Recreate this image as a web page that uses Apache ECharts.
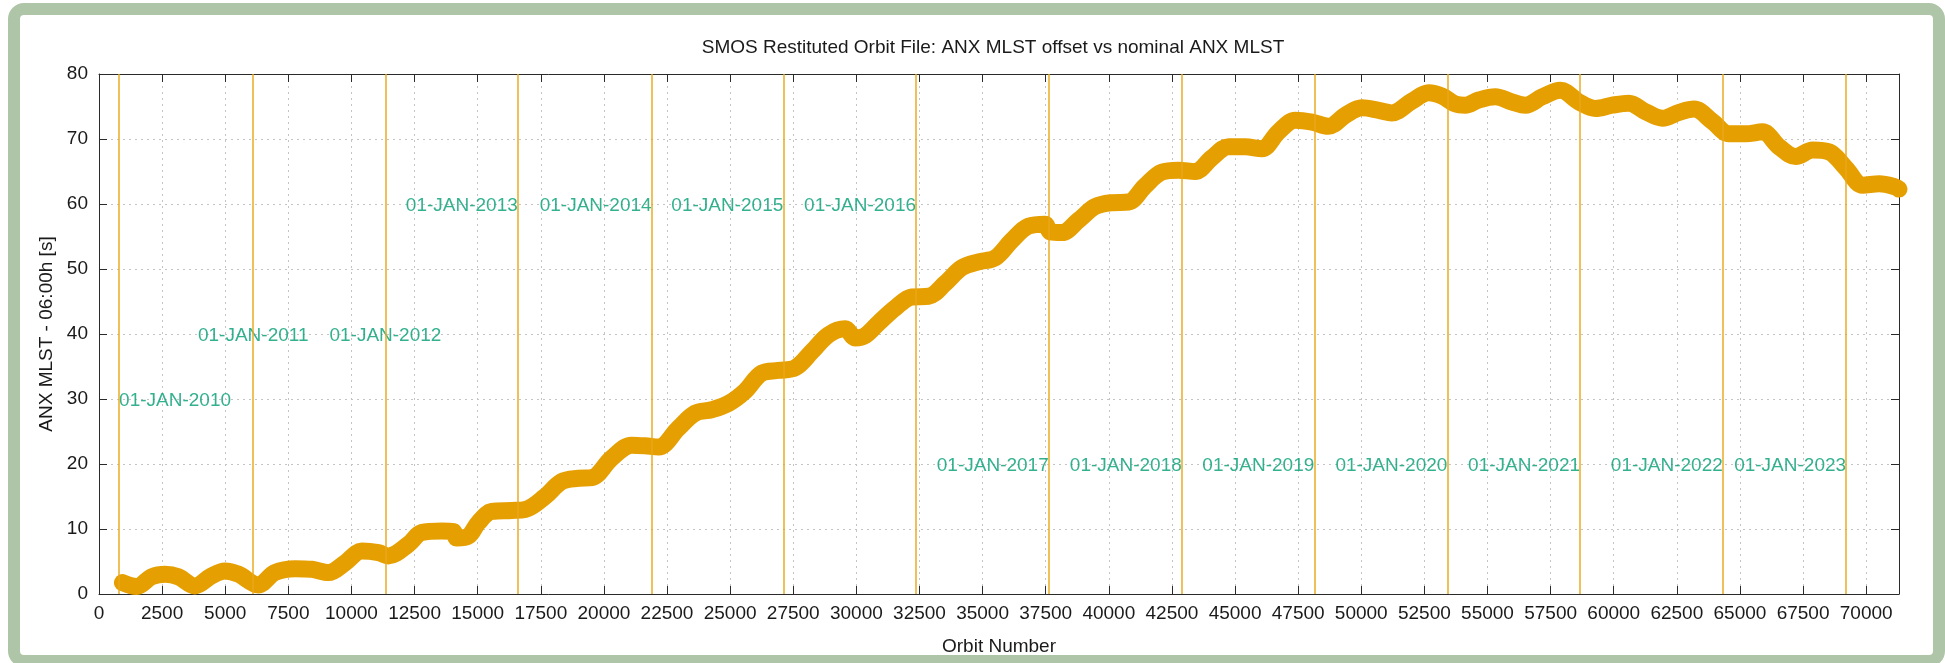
<!DOCTYPE html>
<html>
<head>
<meta charset="utf-8">
<script src="https://cdn.jsdelivr.net/npm/echarts@6/dist/echarts.min.js"></script>
<style>
  html, body { margin: 0; padding: 0; background: #ffffff; overflow: hidden; }
  #frame { position: absolute; left: 8px; top: 3px; width: 1937px; height: 664px; box-sizing: border-box;
           border: 12px solid #afc5a8; border-radius: 16px; background: #ffffff; }
  #chart { position: absolute; left: 0; top: 0; width: 1945px; height: 663px; }
</style>
</head>
<body>
<div id="frame"></div>
<div id="chart"></div>
<script>
// ---- data ----
const orbitNumbers = [930, 1490, 2090, 2620, 3140, 3800, 4460, 4990, 5520, 6310, 6970, 7770, 8430, 9090, 9750, 10410, 11070, 11460, 12260, 12780, 13580, 14040, 14170, 14630, 15030, 15560, 16350, 16880, 17670, 18330, 18990, 19520, 20310, 21100, 21630, 22160, 22950, 23610, 24270, 24930, 25590, 26260, 26920, 27580, 28240, 28900, 29560, 29950, 30350, 30880, 31540, 32200, 32860, 33520, 34180, 34840, 35500, 36160, 36820, 37480, 37680, 38140, 38800, 39460, 40120, 40780, 41440, 42100, 42760, 43420, 44080, 44740, 45400, 46060, 46720, 47390, 48050, 48700, 49370, 50030, 50690, 51210, 52000, 52670, 53200, 53720, 54120, 54650, 55310, 55970, 56500, 57170, 57890, 58620, 59280, 59940, 60600, 61260, 61930, 62590, 63180, 63910, 64570, 65230, 65890, 66550, 67210, 67880, 68540, 69200, 69860, 70520, 71180, 71300];
const mlstOffsets = [1.75, 1.15, 2.65, 3.05, 2.65, 1.25, 2.8, 3.55, 3.05, 1.4, 3.3, 3.9, 3.8, 3.3, 4.8, 6.6, 6.35, 5.85, 7.65, 9.45, 9.7, 9.6, 8.6, 8.9, 11.0, 12.7, 12.85, 13.0, 15.0, 17.3, 17.8, 17.9, 20.9, 22.9, 22.8, 22.6, 25.5, 27.8, 28.35, 29.3, 31.2, 34.0, 34.4, 34.8, 37.3, 39.9, 40.8, 39.4, 39.75, 41.7, 44.0, 45.7, 45.8, 47.8, 50.2, 51.1, 51.7, 54.4, 56.6, 56.9, 55.7, 55.6, 57.5, 59.6, 60.2, 60.3, 62.8, 64.9, 65.2, 65.0, 67.1, 68.8, 68.8, 68.5, 71.1, 72.9, 72.6, 71.95, 73.65, 74.8, 74.4, 74.0, 75.8, 77.1, 76.6, 75.4, 75.2, 76.0, 76.5, 75.7, 75.2, 76.5, 77.5, 75.7, 74.7, 75.2, 75.5, 74.2, 73.2, 74.1, 74.6, 72.7, 70.8, 70.8, 71.1, 68.8, 67.3, 68.3, 68.0, 65.5, 62.9, 63.1, 62.6, 62.3];

const yearLabels = ['01-JAN-2010', '01-JAN-2011', '01-JAN-2012', '01-JAN-2013', '01-JAN-2014', '01-JAN-2015', '01-JAN-2016', '01-JAN-2017', '01-JAN-2018', '01-JAN-2019', '01-JAN-2020', '01-JAN-2021', '01-JAN-2022', '01-JAN-2023'];
const yearOrbits = [795, 6110, 11345, 16590, 21890, 27105, 32365, 37620, 42890, 48140, 53410, 58665, 64320, 69205];
const yearLabelValues = [30, 40, 40, 60, 60, 60, 60, 20, 20, 20, 20, 20, 20, 20];
const yearLabelAligns = ['left', 'center', 'center', 'right', 'right', 'right', 'right', 'right', 'right', 'right', 'right', 'right', 'right', 'right'];

const xMin = 0, xMax = 71300, xStep = 2500;
const yMin = 0, yMax = 80, yStep = 10;

const titleText = 'SMOS Restituted Orbit File: ANX MLST offset vs nominal ANX MLST';
const xName = 'Orbit Number';
const yName = 'ANX MLST - 06:00h [s]';

// ---- chart ----
const FONT = "'Liberation Sans', Arial, Helvetica, sans-serif";
const chart = echarts.init(document.getElementById('chart'), null, { renderer: 'canvas' });

const curve = orbitNumbers.map((o, i) => [o, mlstOffsets[i]]);
const labelPoints = yearLabels.map((t, i) => ({
  value: [yearOrbits[i], yearLabelValues[i]],
  name: t,
  label: { align: yearLabelAligns[i] }
}));

const axisCommon = {
  type: 'value',
  axisLine: { show: true, onZero: false, lineStyle: { color: '#2a2a2a', width: 1 } },
  axisTick: { show: true, inside: true, length: 8, lineStyle: { color: '#2a2a2a', width: 1 } },
};

const option = {
  backgroundColor: 'transparent',
  animation: false,
  title: {
    text: titleText,
    left: 988, top: 33, textAlign: 'center',
    textStyle: { fontFamily: FONT, fontSize: 19, fontWeight: 'normal', color: '#1a1a1a' }
  },
  grid: { left: 99, top: 74, width: 1800, height: 520, containLabel: false },
  xAxis: [
    Object.assign({}, axisCommon, {
      position: 'bottom', min: xMin, max: xMax, interval: xStep,
      name: xName, nameLocation: 'middle', nameGap: 43,
      nameTextStyle: { fontFamily: FONT, fontSize: 19, color: '#1a1a1a' },
      axisLabel: { fontFamily: FONT, fontSize: 19, color: '#1a1a1a', margin: 10, showMaxLabel: false, showMinLabel: true,
                   formatter: v => String(v) },
      splitLine: { show: true, lineStyle: { color: '#c4c4c4', width: 1, type: [2, 4] } }
    }),
    Object.assign({}, axisCommon, {
      position: 'top', min: xMin, max: xMax, interval: xStep,
      axisLabel: { show: false }, splitLine: { show: false }
    })
  ],
  yAxis: [
    Object.assign({}, axisCommon, {
      position: 'left', min: yMin, max: yMax, interval: yStep,
      name: yName, nameLocation: 'middle', nameGap: 42,
      nameTextStyle: { fontFamily: FONT, fontSize: 19, color: '#1a1a1a' },
      axisLabel: { fontFamily: FONT, fontSize: 19, color: '#1a1a1a', margin: 11 },
      splitLine: { show: true, lineStyle: { color: '#c4c4c4', width: 1, type: [2, 4] } }
    }),
    Object.assign({}, axisCommon, {
      position: 'right', min: yMin, max: yMax, interval: yStep,
      axisLabel: { show: false }, splitLine: { show: false }
    })
  ],
  series: [
    {
      name: 'years', type: 'line', data: [], z: 1,
      markLine: {
        silent: true, symbol: ['none', 'none'], animation: false,
        label: { show: false },
        lineStyle: { color: '#eaa71c', width: 1.6, type: 'solid', opacity: 0.9 },
        data: yearOrbits.map(v => ({ xAxis: v }))
      }
    },
    {
      name: 'MLST offset', type: 'line', data: curve, z: 3,
      showSymbol: false, symbol: 'none', smooth: 0.35, clip: false,
      lineStyle: { color: '#E69F00', width: 17, cap: 'round', join: 'round' }
    },
    {
      name: 'labels', type: 'scatter', data: labelPoints, z: 4,
      symbolSize: 0, silent: true,
      label: {
        show: true, position: 'inside', verticalAlign: 'middle', offset: [0, 2],
        formatter: p => p.name,
        fontFamily: FONT, fontSize: 19, color: '#009E73'
      }
    }
  ]
};
chart.setOption(option);
</script>
</body>
</html>
